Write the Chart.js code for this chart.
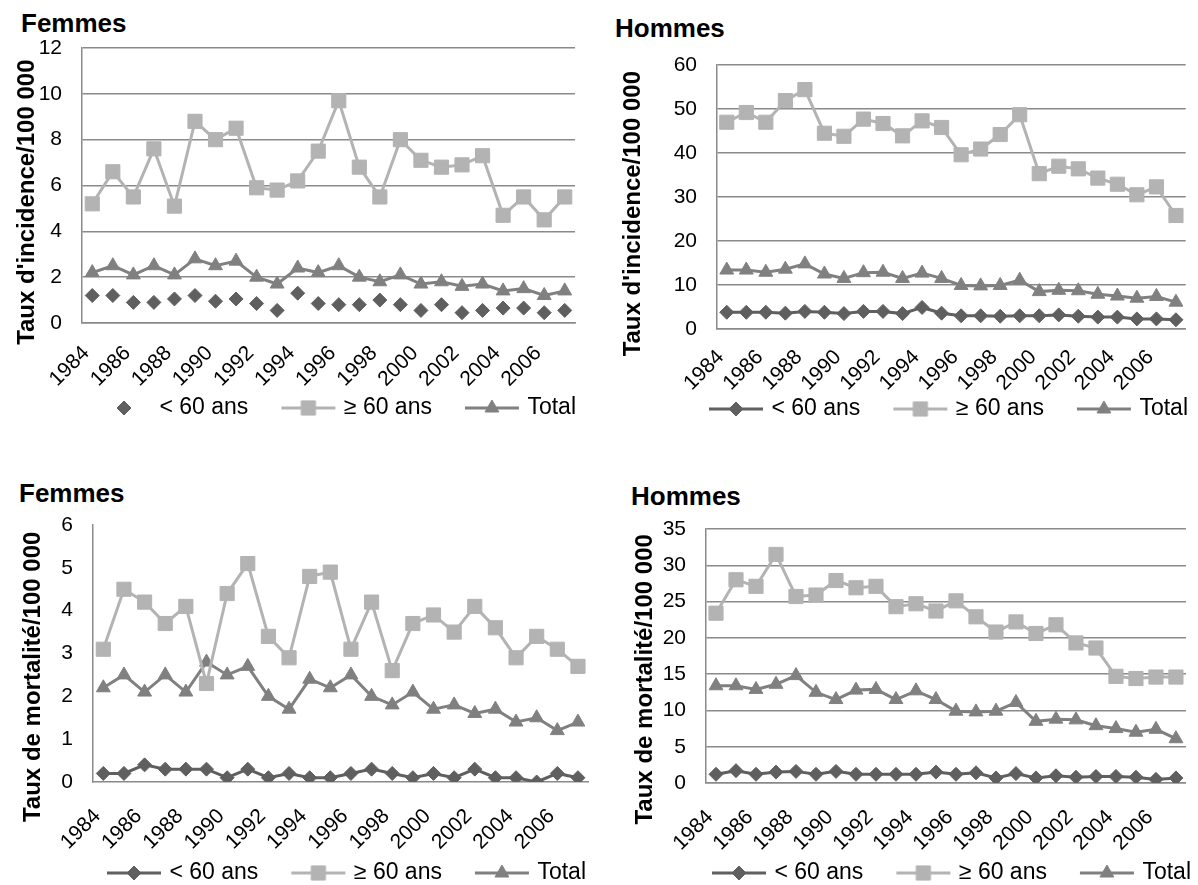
<!DOCTYPE html>
<html>
<head>
<meta charset="utf-8">
<script src="https://cdn.jsdelivr.net/npm/chart.js@4.4.0/dist/chart.umd.min.js"></script>
<style>
  body { margin: 0; background: #fff; width: 1198px; height: 885px; position: relative; overflow: hidden;
         font-family: "Liberation Sans", Arial, sans-serif; }
  canvas { position: absolute; }
  .ttl { position: absolute; font-weight: bold; font-size: 26px; line-height: 26px; color: #000; white-space: nowrap; }
</style>
</head>
<body>
<div class="ttl" style="left:21px;top:10px">Femmes</div>
<div class="ttl" style="left:615px;top:15px">Hommes</div>
<div class="ttl" style="left:19px;top:480px">Femmes</div>
<div class="ttl" style="left:631px;top:483px">Hommes</div>

<canvas id="c1" width="590" height="472" style="left:0;top:0"></canvas>
<canvas id="c2" width="598" height="478" style="left:600px;top:0"></canvas>
<canvas id="c3" width="600" height="476" style="left:0;top:455px"></canvas>
<canvas id="c4" width="598" height="477" style="left:600px;top:455px"></canvas>

<script>
// années
const years = ['1984','1985','1986','1987','1988','1989','1990','1991','1992','1993','1994','1995',
               '1996','1997','1998','1999','2000','2001','2002','2003','2004','2005','2006','2007'];

// incidence femmes
const incFemmesMoins60 = [1.2,1.2,0.9,0.9,1.05,1.2,0.95,1.05,0.85,0.55,1.3,0.85,0.8,0.8,1.0,0.8,0.55,0.8,0.45,0.55,0.65,0.65,0.45,0.55];
const incFemmesPlus60  = [5.2,6.6,5.5,7.6,5.1,8.8,8.0,8.5,5.9,5.8,6.2,7.5,9.7,6.8,5.5,8.0,7.1,6.8,6.9,7.3,4.7,5.5,4.5,5.5];
const totalFemmes      = [2.2,2.5,2.1,2.5,2.1,2.8,2.5,2.7,2.0,1.7,2.4,2.2,2.5,2.0,1.8,2.1,1.7,1.8,1.6,1.7,1.4,1.5,1.2,1.4];

// incidence hommes
const incHommesMoins60 = [3.8,3.8,3.8,3.6,4.0,3.8,3.5,4.0,4.0,3.5,4.9,3.6,3.0,3.0,2.9,3.0,3.0,3.2,2.9,2.7,2.7,2.3,2.3,2.1];
const incHommesPlus60  = [47.0,49.2,47.0,51.9,54.4,44.5,43.8,47.7,46.7,43.9,47.3,45.8,39.6,40.9,44.2,48.7,35.3,37.0,36.4,34.3,32.9,30.5,32.3,25.8];
const totalHommes      = [13.4,13.4,12.9,13.6,14.8,12.5,11.5,12.8,12.9,11.5,12.7,11.5,9.9,9.8,9.9,11.1,8.5,8.8,8.7,7.9,7.5,7.0,7.4,6.1];

// mortalité
const mortFemmesMoins60 = [0.2,0.2,0.4,0.3,0.3,0.3,0.1,0.3,0.1,0.2,0.1,0.1,0.2,0.3,0.2,0.1,0.2,0.1,0.3,0.1,0.1,0.0,0.2,0.1];
const mortFemmesPlus60  = [3.1,4.5,4.2,3.7,4.1,2.3,4.4,5.1,3.4,2.9,4.8,4.9,3.1,4.2,2.6,3.7,3.9,3.5,4.1,3.6,2.9,3.4,3.1,2.7];
const mortHommesMoins60 = [1.2,1.7,1.2,1.5,1.6,1.2,1.6,1.2,1.2,1.2,1.2,1.5,1.2,1.4,0.7,1.3,0.7,1.0,0.8,0.9,0.9,0.8,0.5,0.7];
const mortHommesPlus60  = [23.4,28.0,27.1,31.5,25.7,25.9,27.9,26.9,27.1,24.3,24.7,23.7,25.1,22.9,20.8,22.2,20.6,21.8,19.3,18.6,14.7,14.4,14.6,14.6];

const seriesNames = ['< 60 ans', '\u2265 60 ans', 'Total'];

const FONT = '"Liberation Sans", Arial, sans-serif';
const DARK = '#5f5f5f', LIGHT = '#b3b3b3', MID = '#808080', GRID = '#8a8a8a';
const styles = [
  { color: DARK,  point: 'rectRot',  r: 7 },
  { color: LIGHT, point: 'rect',     r: 10 },
  { color: MID,   point: 'triangle', r: 8 }
];
const LEG_FONT = 23, LEG_PAD = 36;

function legendIcon(st, withLine) {
  const c = document.createElement('canvas');
  c.width = 58; c.height = 22;
  const ctx = c.getContext('2d');
  if (withLine) {
    ctx.strokeStyle = st.color; ctx.lineWidth = 3;
    ctx.beginPath(); ctx.moveTo(2, 11); ctx.lineTo(56, 11); ctx.stroke();
  }
  ctx.fillStyle = st.color; ctx.strokeStyle = st.color; ctx.lineWidth = 1;
  Chart.helpers.drawPoint(ctx, { pointStyle: st.point, radius: st.r, rotation: 0, borderWidth: 1 }, 29, 11);
  return c;
}

// put the legend where it sits in the picture
const legendPlace = {
  id: 'legendPlace',
  afterLayout(chart, args, opts) {
    const lg = chart.legend;
    if (!lg) return;
    const dx = opts.cx - (lg.left + lg.right) / 2;
    lg.left += dx; lg.right += dx;
    const dy = opts.cy - (lg.top + LEG_PAD + LEG_FONT / 2);
    lg.top += dy; lg.bottom += dy;
  }
};

function drawPanel(id, p) {
  const data = [p.moins60, p.plus60, p.total];
  const datasets = data.map((d, i) => ({
    label: seriesNames[i],
    data: d,
    borderColor: styles[i].color,
    backgroundColor: styles[i].color,
    borderWidth: 3,
    pointStyle: styles[i].point,
    pointRadius: styles[i].r,
    pointHoverRadius: styles[i].r,
    pointBorderWidth: 1,
    showLine: i === 0 ? p.moinsLine : true,
    tension: 0
  }));
  const icons = styles.map((st, i) => legendIcon(st, i === 0 ? p.moinsLine : true));
  // trailing spaces push the rotated title a bit lower, as in the original
  const yTitle = p.yTitle + '\u00a0'.repeat(p.titleShift);

  new Chart(document.getElementById(id), {
    type: 'line',
    data: { labels: years, datasets: datasets },
    options: {
      responsive: false,
      animation: false,
      events: [],
      layout: { padding: { left: p.padL, right: p.padR, top: p.padT, bottom: 0 } },
      plugins: {
        title: { display: false },
        tooltip: { enabled: false },
        legend: {
          position: 'bottom',
          labels: {
            usePointStyle: true,
            pointStyleWidth: 48,
            padding: LEG_PAD,
            color: '#000',
            font: { family: FONT, size: LEG_FONT },
            generateLabels: () => seriesNames.map((n, i) => ({
              text: n, pointStyle: icons[i], fillStyle: styles[i].color,
              strokeStyle: styles[i].color, lineWidth: 0, hidden: false, datasetIndex: i
            }))
          }
        },
        legendPlace: { cx: p.legX, cy: p.legY }
      },
      scales: {
        x: {
          offset: true,
          // invisible tick marks only push the labels down
          grid: { display: true, drawOnChartArea: false, drawTicks: true, tickLength: p.tickLen, tickColor: 'rgba(0,0,0,0)' },
          border: { display: true, color: GRID, width: 1.5 },
          ticks: {
            autoSkip: false, maxRotation: 45, minRotation: 45, padding: 4, labelOffset: -6,
            color: '#000', font: { family: FONT, size: 21 },
            callback: (v, i) => (i % 2 === 0 ? years[i] : '')
          },
          afterFit: s => { s.height = 80; }
        },
        y: {
          min: 0, max: p.yMax,
          grid: { display: p.grid, color: GRID, lineWidth: 1.5, drawTicks: false },
          border: { display: true, color: GRID, width: 1.5 },
          ticks: { stepSize: p.yStep, padding: 20, color: '#000', font: { family: FONT, size: 21 } },
          title: {
            display: true, text: yTitle, color: '#000',
            font: { family: FONT, size: 24, weight: 'bold' }, padding: { top: 0, bottom: 0 }
          },
          afterFit: s => { s.width = p.yw; }
        }
      }
    },
    plugins: [legendPlace]
  });
}

drawPanel('c1', {
  moins60: incFemmesMoins60, plus60: incFemmesPlus60, total: totalFemmes, moinsLine: false,
  yMax: 12, yStep: 2, grid: true, yTitle: "Taux d'incidence/100 000", titleShift: 5,
  padL: 13, yw: 69, padR: 15, padT: 48, tickLen: 14, legX: 338, legY: 408
});
drawPanel('c2', {
  moins60: incHommesMoins60, plus60: incHommesPlus60, total: totalHommes, moinsLine: true,
  yMax: 60, yStep: 10, grid: true, yTitle: "Taux d'incidence/100 000", titleShift: 5,
  padL: 19, yw: 98, padR: 5, padT: 65, tickLen: 12, legX: 350, legY: 409
});
drawPanel('c3', {
  moins60: mortFemmesMoins60, plus60: mortFemmesPlus60, total: totalFemmes, moinsLine: true,
  yMax: 6, yStep: 1, grid: false, yTitle: 'Taux de mortalité/100 000', titleShift: 7,
  padL: 19, yw: 74, padR: 5, padT: 70, tickLen: 18, legX: 348, legY: 418
});
drawPanel('c4', {
  moins60: mortHommesMoins60, plus60: mortHommesPlus60, total: totalHommes, moinsLine: true,
  yMax: 35, yStep: 5, grid: true, yTitle: 'Taux de mortalité/100 000', titleShift: 7,
  padL: 31, yw: 75, padR: 0, padT: 74, tickLen: 18, legX: 353, legY: 418
});
</script>
</body>
</html>
